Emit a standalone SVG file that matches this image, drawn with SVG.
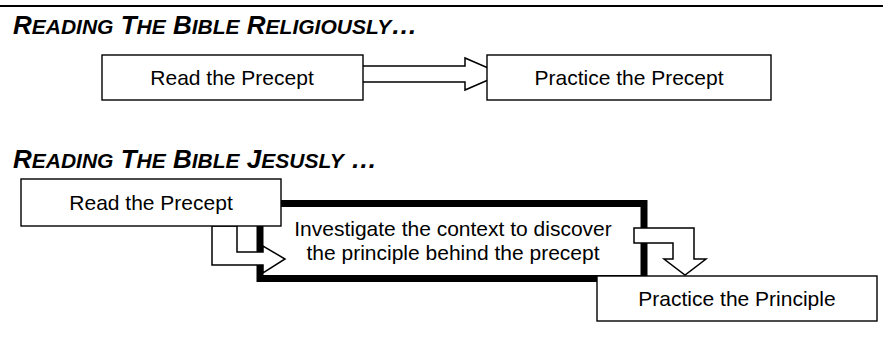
<svg xmlns="http://www.w3.org/2000/svg" width="883" height="346" viewBox="0 0 883 346">
<style>
.h{font-family:"Liberation Sans",Arial,sans-serif;font-weight:bold;font-style:italic;font-size:26px;fill:#000}
.s{font-size:21px}
.t{font-family:"Liberation Sans",Arial,sans-serif;font-size:21px;fill:#000;text-anchor:middle}
.box{fill:#fff;stroke:#000;stroke-width:1.4}
.thick{fill:#fff;stroke:#000;stroke-width:7}
.arr{fill:#fff;stroke:#000;stroke-width:1.5;stroke-linejoin:miter}
</style>
<rect x="0" y="0" width="883" height="346" fill="#fff"/>
<line x1="0" y1="6" x2="883" y2="6" stroke="#000" stroke-width="2"/>
<text class="h" x="13" y="34">R<tspan class="s">EADING</tspan> T<tspan class="s">HE</tspan> B<tspan class="s">IBLE</tspan> R<tspan class="s">ELIGIOUSLY</tspan>…</text>
<text class="h" x="13" y="168">R<tspan class="s">EADING</tspan> T<tspan class="s">HE</tspan> B<tspan class="s">IBLE</tspan> J<tspan class="s">ESUSLY</tspan> …</text>
<g id="investigate">
<rect class="thick" x="260" y="203.5" width="384" height="75"/>
<text class="t" x="453" y="236">Investigate the context to discover</text>
<text class="t" x="453" y="260">the principle behind the precept</text>
</g>
<g id="connectors">
<polygon class="arr" points="357,66 465,66 465,58 502,74 465,90 465,82 357,82"/>
<polygon class="arr" points="212,226 212,265 263,265 263,273 285,259 263,246 263,252 237,252 237,226"/>
<polygon class="arr" points="634,228 694,228 694,259 706,259 685,275 664,259 673,259 673,243 634,243"/>
</g>
<g id="read1">
<rect class="box" x="102" y="55" width="261" height="45"/>
<text class="t" x="232" y="85">Read the Precept</text>
</g>
<g id="practice1">
<rect class="box" x="487" y="55" width="284" height="45"/>
<text class="t" x="629" y="85">Practice the Precept</text>
</g>
<g id="read2">
<rect class="box" x="21" y="179" width="260" height="47"/>
<text class="t" x="151" y="210">Read the Precept</text>
</g>
<g id="practice2">
<rect class="box" x="597" y="276" width="280" height="45"/>
<text class="t" x="737" y="306">Practice the Principle</text>
</g>
</svg>
